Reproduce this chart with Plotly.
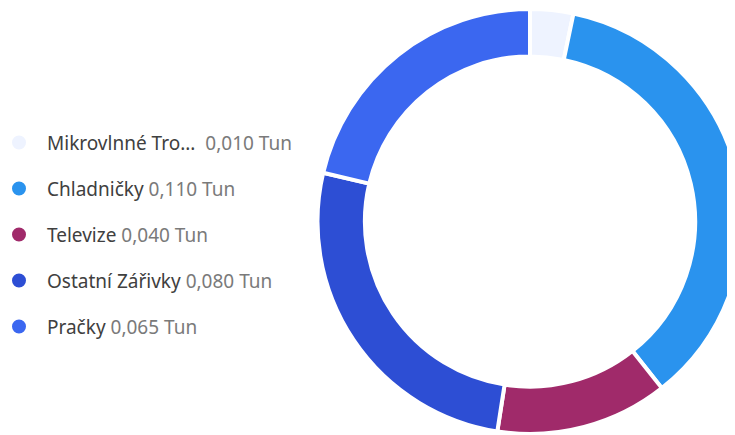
import plotly.graph_objects as go

labels = ["Mikrovlnné Trouby", "Chladničky", "Televize", "Ostatní Zářivky", "Pračky"]
values = [0.010, 0.110, 0.040, 0.080, 0.065]
colors = ["#EEF3FF", "#2A93EE", "#A02A6A", "#2D4ED4", "#3B67F0"]
unit = "Tun"

W, H = 735, 435

# pie centre / radius in figure pixels
cx, cy, r = 522, 213.5, 212.5

fig = go.Figure()
fig.add_trace(go.Pie(
    labels=labels, values=values, sort=False, direction="clockwise", rotation=0,
    hole=0.777, marker=dict(colors=colors, line=dict(color="white", width=4)),
    textinfo="none", hoverinfo="label+value", showlegend=False,
    domain=dict(x=[(cx - r) / W, min(1.0, (cx + r) / W)], y=[1 - (cy + r) / H, 1 - (cy - r) / H]),
))

def fmt(v):
    return f"{v:.3f}".replace(".", ",")

def trunc(s, n=15):
    return s if len(s) <= n else s[:n - 1] + "..."

shapes = []
annotations = []
y0, dy = 134.5, 46
for i, (lab, v, c) in enumerate(zip(labels, values, colors)):
    yp = 1 - (y0 + i * dy) / H
    shapes.append(dict(type="circle", xref="paper", yref="paper", xsizemode="pixel", ysizemode="pixel",
                       xanchor=11 / W, yanchor=yp, x0=-7, x1=7, y0=-7, y1=7,
                       fillcolor=c, line=dict(width=0)))
    name = trunc(lab)
    sep = " &nbsp;" if name != lab else " "
    annotations.append(dict(xref="paper", yref="paper", x=37 / W, y=yp, xanchor="left", yanchor="middle",
                            showarrow=False,
                            text=f"<span style='color:#404040'>{name}</span>{sep}<span style='color:#7a7a7a'>{fmt(v)} {unit}</span>",
                            font=dict(family="Noto Sans", size=19)))

fig.update_layout(width=W, height=H, margin=dict(l=0, r=0, t=0, b=0),
                  paper_bgcolor="white", plot_bgcolor="white",
                  shapes=shapes, annotations=annotations)
fig.write_html("out.html")
